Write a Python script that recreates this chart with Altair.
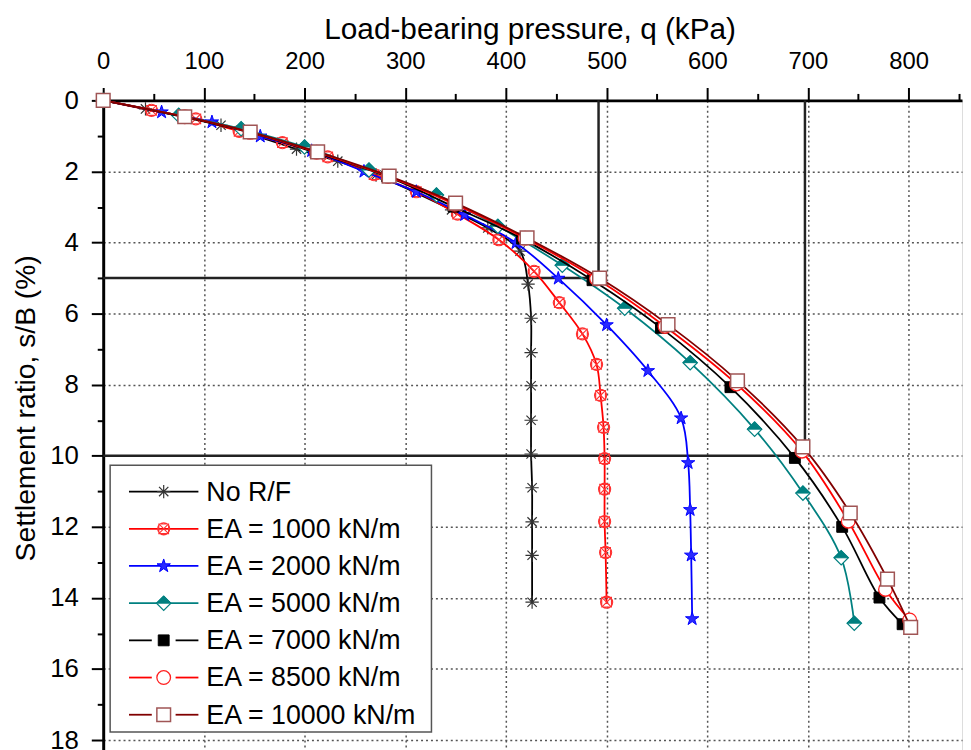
import altair as alt
import pandas as pd

# ---------------- data ----------------
series_names = ["No R/F", "EA = 1000 kN/m", "EA = 2000 kN/m", "EA = 5000 kN/m",
                "EA = 7000 kN/m", "EA = 8500 kN/m", "EA = 10000 kN/m"]

q_norf = [0, 42, 117, 192, 233, 271, 346, 382, 414, 422, 425, 425, 425, 425, 425, 426, 426, 426, 426]
s_norf = [0, 0.24, 0.70, 1.37, 1.71, 2.10, 3.08, 3.59, 4.24, 5.17, 6.13, 7.10, 8.03, 9.00, 9.95, 10.90, 11.86, 12.80, 14.12]

q_1000 = [0, 48, 92, 135, 178, 223, 269, 311, 352, 393, 428, 453, 476, 490, 494, 497, 498, 498, 498, 499, 500]
s_1000 = [0, 0.28, 0.52, 0.87, 1.19, 1.59, 2.09, 2.57, 3.20, 3.92, 4.81, 5.69, 6.57, 7.43, 8.30, 9.20, 10.08, 10.94, 11.85, 12.72, 14.12]

q_2000 = [0, 58, 108, 156, 207, 259, 311, 359, 410, 452, 500, 541, 574, 581, 583, 584, 585]
s_2000 = [0, 0.33, 0.61, 1.01, 1.42, 2.00, 2.57, 3.22, 4.01, 5.01, 6.32, 7.61, 8.94, 10.20, 11.52, 12.80, 14.59]

q_5000 = [0, 75, 137, 200, 264, 331, 392, 456, 518, 583, 647, 695, 733, 746]
s_5000 = [0, 0.42, 0.80, 1.31, 1.96, 2.66, 3.54, 4.64, 5.85, 7.38, 9.25, 11.05, 12.87, 14.71]

q_7000 = [0, 80, 145, 211, 282, 348, 416, 486, 554, 623, 687, 734, 771, 794]
s_7000 = [0, 0.47, 0.90, 1.47, 2.14, 2.99, 3.89, 5.06, 6.40, 8.07, 10.06, 12.00, 13.99, 14.74]

q_8500 = [0, 81, 146, 212, 283, 349, 419, 490, 558, 629, 694, 740, 777, 801]
s_8500 = [0, 0.46, 0.90, 1.46, 2.14, 2.92, 3.88, 5.02, 6.36, 7.98, 9.87, 11.84, 13.76, 14.62]

q_10000 = [0, 81, 146, 213, 284, 350, 421, 493, 561, 630, 695, 742, 779, 802]
s_10000 = [0, 0.46, 0.89, 1.45, 2.13, 2.89, 3.87, 5.00, 6.31, 7.89, 9.75, 11.61, 13.47, 14.83]

ref_q = [492, 697]   # vertical guide lines (kPa)
ref_s = [5, 10]      # horizontal guide lines (%)

x_tick_values = list(range(0, 851, 50))
y_tick_values = list(range(0, 19))

# ---------------- layout ----------------
W, H = 866, 663
X_MAX, Y_MAX = 853, 18.5
KX, KY = W / X_MAX, H / Y_MAX
LEFT, TOP = 104, 98  # page position of plot origin

def qx(px):
    return (px - LEFT) / KX

def sy(py):
    return (py - TOP) / KY

FONT = "Liberation Sans"

xs = alt.Scale(domain=[0, X_MAX], nice=False, zero=False)
ys = alt.Scale(domain=[0, Y_MAX], reverse=True, nice=False, zero=False)

x_axis = alt.Axis(
    orient="top", values=x_tick_values,
    labelExpr="datum.value % 100 === 0 ? datum.label : ''",
    tickSize={"condition": {"test": "datum.value % 100 === 0", "value": 13}, "value": 7},
    gridOpacity={"condition": {"test": "datum.value % 100 === 0 && datum.value > 0", "value": 1}, "value": 0},
    grid=True, gridColor="#555555", gridDash=[2, 3], gridWidth=1.5,
    domainColor="black", domainWidth=3, tickColor="black", tickWidth=2,
    labelFont=FONT, labelFontSize=24, labelColor="black",
    labelBaseline="alphabetic", labelPadding=19, labelFlush=False,
    title="Load-bearing pressure, q (kPa)", titleFont=FONT,
    titleFontSize=30, titleFontWeight="normal", titleColor="black",
    titleX=430, titleY=-62, titleAlign="center", titleBaseline="alphabetic",
)
y_axis = alt.Axis(
    orient="left", values=y_tick_values,
    labelExpr="datum.value % 2 === 0 ? datum.label : ''",
    tickSize={"condition": {"test": "datum.value % 2 === 0", "value": 12}, "value": 6},
    gridOpacity={"condition": {"test": "datum.value % 2 === 0 && datum.value > 0", "value": 1}, "value": 0},
    grid=True, gridColor="#555555", gridDash=[2, 3], gridWidth=1.5,
    domainColor="black", domainWidth=3, tickColor="black", tickWidth=2,
    labelFont=FONT, labelFontSize=26, labelColor="black",
    labelPadding=13, labelFlush=False,
    title="Settlement ratio, s/B (%)", titleFont=FONT,
    titleFontSize=28.5, titleFontWeight="normal", titleColor="black",
    titleAngle=270, titleX=-78, titleY=310, titleAlign="center", titleBaseline="middle",
)

def X(f):
    return alt.X(f"{f}:Q", scale=xs, axis=x_axis)

def Y(f):
    return alt.Y(f"{f}:Q", scale=ys, axis=y_axis)

ASTERISK = "M-1,0L1,0M0,-1L0,1M-0.7,-0.7L0.7,0.7M-0.7,0.7L0.7,-0.7"
CIRCLEX = "M-1,0A1,1,0,1,1,1,0A1,1,0,1,1,-1,0ZM-0.8,-0.8L0.8,0.8M-0.8,0.8L0.8,-0.8M-0.8,-0.8L0.8,-0.8L0.8,0.8L-0.8,0.8Z"
STAR = "M0,-1L0.225,-0.309L0.951,-0.309L0.363,0.118L0.588,0.809L0,0.382L-0.588,0.809L-0.363,0.118L-0.951,-0.309L-0.225,-0.309Z"
HALF_DIAMOND = "M-1,0L0,-1L1,0Z"

styles = [
    dict(q=q_norf, s=s_norf, line="#000000", gap=False,
         marks=[dict(shape=ASTERISK, filled=False, color="#333333", size=180, strokeWidth=1.2)]),
    dict(q=q_1000, s=s_1000, line="#ff0000", gap=False,
         marks=[dict(shape=CIRCLEX, filled=False, color="#ff3030", size=150, strokeWidth=1.1)]),
    dict(q=q_2000, s=s_2000, line="#0000ff", gap=False,
         marks=[dict(shape=STAR, filled=True, fill="#2a2aff", stroke="#0000ff", size=200, strokeWidth=1.0)]),
    dict(q=q_5000, s=s_5000, line="#008080", gap=False,
         marks=[dict(shape="diamond", filled=True, fill="white", stroke="#008080", size=210, strokeWidth=1.2),
                dict(shape=HALF_DIAMOND, filled=True, fill="#008080", stroke="#008080", size=210, strokeWidth=1.0)]),
    dict(q=q_7000, s=s_7000, line="#000000", gap=True,
         marks=[dict(shape="square", filled=True, fill="black", stroke="black", size=120, strokeWidth=1.0)]),
    dict(q=q_8500, s=s_8500, line="#ff0000", gap=True,
         marks=[dict(shape="circle", filled=True, fill="white", stroke="#ff2020", size=190, strokeWidth=1.3)]),
    dict(q=q_10000, s=s_10000, line="#800000", gap=True,
         marks=[dict(shape="square", filled=True, fill="white", stroke="#a05555", size=190, strokeWidth=1.5)]),
]

def point_mark(m):
    kw = dict(shape=m["shape"], size=m["size"], opacity=1, strokeWidth=m["strokeWidth"], filled=m["filled"])
    if m["filled"]:
        kw["fill"] = m["fill"]
        kw["stroke"] = m["stroke"]
    else:
        kw["color"] = m["color"]
    return alt.Chart().mark_point(**kw)

layers = []

# guide lines
h_df = pd.DataFrame({"q0": [0] * len(ref_q), "q1": ref_q, "s": ref_s})
v_df = pd.DataFrame({"q": ref_q, "s0": [0] * len(ref_s), "s1": ref_s})
layers.append(alt.Chart(h_df).mark_rule(color="#222222", strokeWidth=2.5).encode(
    x=X("q0"), x2="q1:Q", y=Y("s")))
layers.append(alt.Chart(v_df).mark_rule(color="#222222", strokeWidth=2.5).encode(
    x=X("q"), y=Y("s0"), y2="s1:Q"))

# curves
for name, st in zip(series_names, styles):
    df = pd.DataFrame({"q": st["q"], "s": st["s"], "i": list(range(len(st["q"])))})
    layers.append(alt.Chart(df).mark_line(color=st["line"], strokeWidth=1.8, interpolate="catmull-rom").encode(
        x=X("q"), y=Y("s"), order="i:Q"))
    for m in st["marks"]:
        layers.append(point_mark(m).properties(data=df).encode(x=X("q"), y=Y("s")))

# legend box
box_df = pd.DataFrame({"q0": [qx(111)], "q1": [qx(435)], "s0": [sy(466)], "s1": [sy(735)]})
layers.append(alt.Chart(box_df).mark_rect(fill="white", stroke="#555555", strokeWidth=1.5).encode(
    x=X("q0"), x2="q1:Q", y=Y("s0"), y2="s1:Q"))

for k, (name, st) in enumerate(zip(series_names, styles)):
    row_s = sy(492.5 + 37.5 * k)
    if st["gap"]:
        seg = pd.DataFrame({"a": [qx(130), qx(177)], "b": [qx(153), qx(200)], "s": [row_s, row_s]})
    else:
        seg = pd.DataFrame({"a": [qx(130)], "b": [qx(200)], "s": [row_s]})
    layers.append(alt.Chart(seg).mark_rule(color=st["line"], strokeWidth=1.8).encode(
        x=X("a"), x2="b:Q", y=Y("s")))
    mk = pd.DataFrame({"q": [qx(165)], "s": [row_s]})
    for m in st["marks"]:
        layers.append(point_mark(m).properties(data=mk).encode(x=X("q"), y=Y("s")))
    tx = pd.DataFrame({"q": [qx(208)], "s": [row_s], "t": [name]})
    layers.append(alt.Chart(tx).mark_text(align="left", baseline="middle", font=FONT,
                                          fontSize=27, color="black", dy=1).encode(
        x=X("q"), y=Y("s"), text="t:N"))

chart = alt.layer(*layers).properties(
    width=W, height=H,
    autosize=alt.AutoSizeParams(type="none"),
    padding={"left": 96, "top": 90, "right": 1, "bottom": 0},
).configure_view(stroke="black", strokeWidth=2).configure(background="white")

chart.save("out.html", embed_options={"renderer": "svg", "actions": False})
